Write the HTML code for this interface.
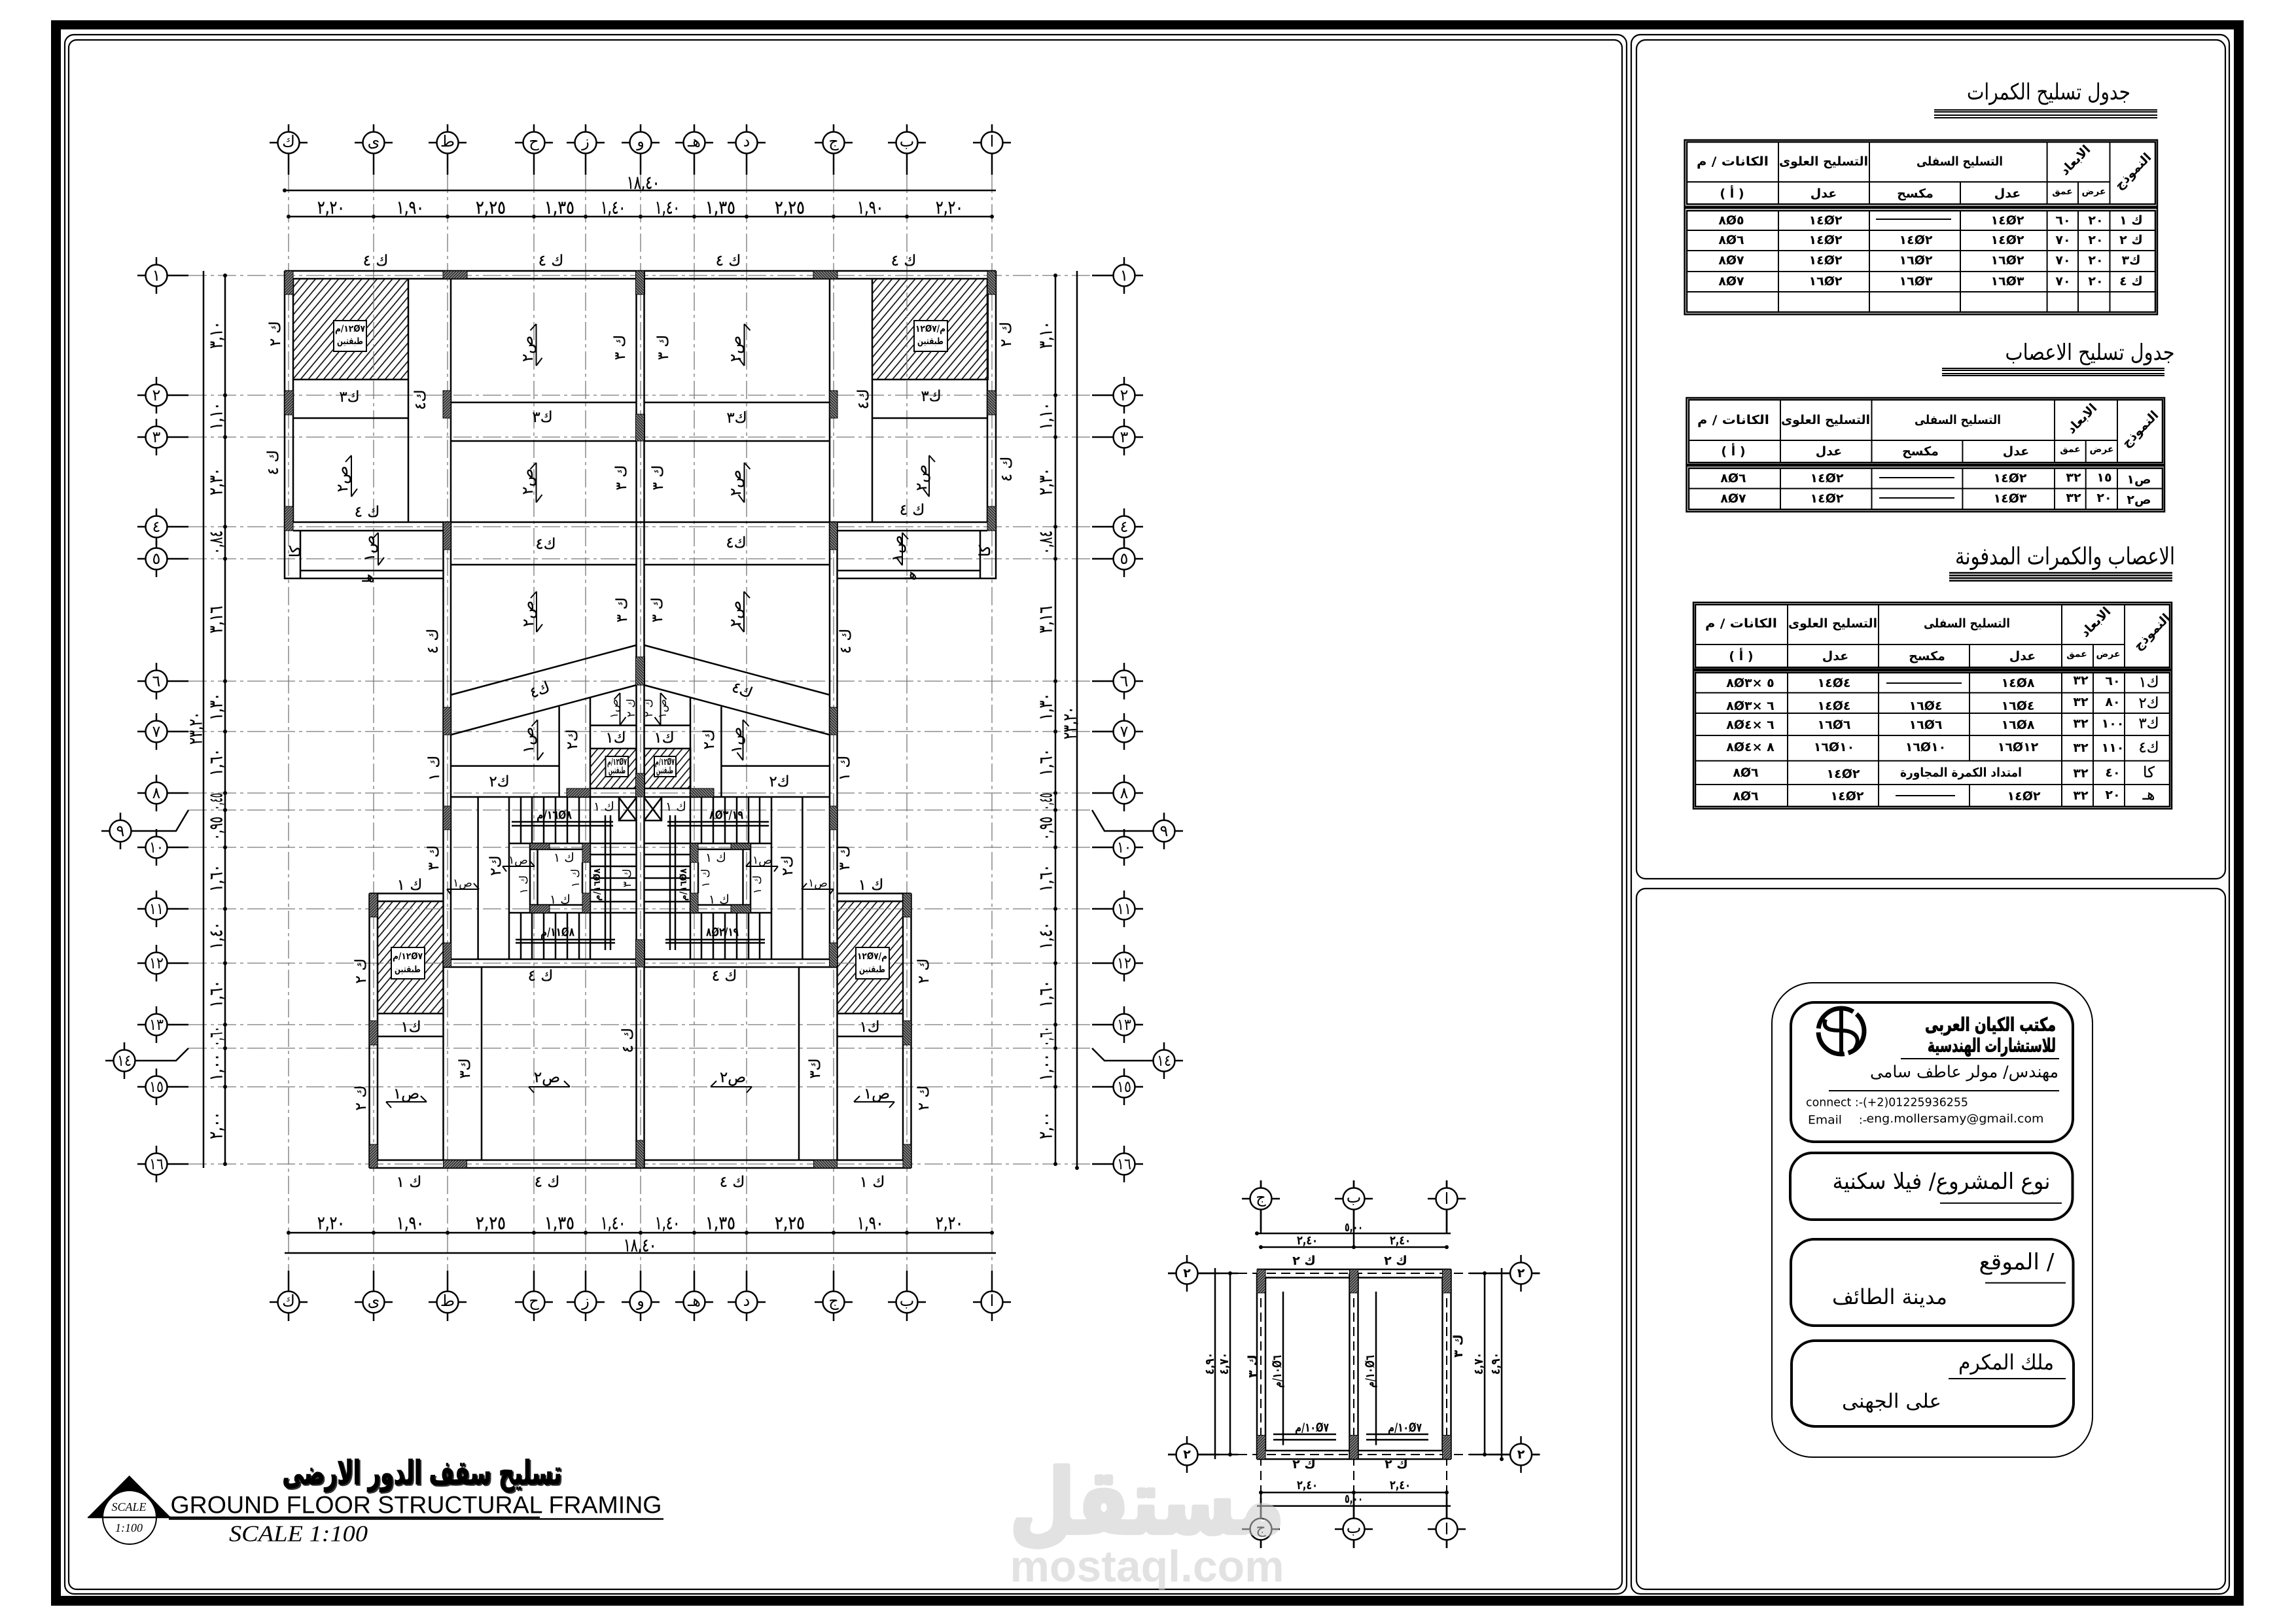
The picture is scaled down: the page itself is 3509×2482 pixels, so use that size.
<!DOCTYPE html>
<html><head><meta charset="utf-8"><style>
html,body{margin:0;padding:0;background:#fff}
svg{display:block}
text{font-family:"DejaVu Sans","Liberation Sans",sans-serif;text-anchor:middle;dominant-baseline:central;fill:#000}
.d{font-size:28px;stroke:#000;stroke-width:.4}
.b{font-size:24px}
.t{font-size:23px;stroke:#000;stroke-width:.3}
.s{font-size:14px;font-weight:bold}
.h{font-size:19px;font-weight:bold}
.v{font-size:19px;font-weight:bold}
.l{fill:none;stroke:#000;stroke-width:2.5}
.f{fill:none;stroke:#000;stroke-width:2}
.g{fill:none;stroke:#777;stroke-width:1.3;stroke-dasharray:28 6 5 6}
</style></head><body>
<svg xmlns="http://www.w3.org/2000/svg" width="3509" height="2482" viewBox="0 0 3509 2482">
<defs>
<pattern id="h" patternUnits="userSpaceOnUse" width="9" height="9" patternTransform="rotate(-50)"><rect width="9" height="9" fill="#fff"/><line x1="0" y1="4.5" x2="9" y2="4.5" stroke="#000" stroke-width="1.6"/></pattern>
<pattern id="c" patternUnits="userSpaceOnUse" width="3" height="3" patternTransform="rotate(-45)"><rect width="3" height="3" fill="#333"/><line x1="0" y1="1.5" x2="3" y2="1.5" stroke="#aaa" stroke-width="1"/></pattern>
<marker id="k" markerUnits="userSpaceOnUse" markerWidth="8" markerHeight="8" refX="4" refY="4"><circle cx="4" cy="4" r="3"/></marker>
<g id="bT"><path class="l" d="M-29 0H-16M16 0H29M0-28V-17M0 17V49"/><circle r="16.5" fill="#fff" stroke="#000" stroke-width="2.5"/></g>
<g id="bB"><path class="l" d="M-29 0H-16M16 0H29M0-48V-17M0 17V29"/><circle r="16.5" fill="#fff" stroke="#000" stroke-width="2.5"/></g>
<g id="bL"><path class="l" d="M-29 0H-16M16 0H49M0-28V-17M0 17V28"/><circle r="16.5" fill="#fff" stroke="#000" stroke-width="2.5"/></g>
<g id="bR"><path class="l" d="M-49 0H-16M16 0H29M0-28V-17M0 17V28"/><circle r="16.5" fill="#fff" stroke="#000" stroke-width="2.5"/></g>
<g id="half">
<path class="l" d="M435 414H978.5M448 426H978.5M435 414V884H677M448 426V798M448 798H978.5M448 811H677M459 872H677M459 811V884M624 426V798M677.5 798V1478M689 426V1466M448 580H624M448 639H624M689 615H972.5M689 674H972.5M689 863H972.5M972.5 426V1785M689 1062L972.5 986M689 1123L972.5 1047M854.6 1080V1218M902 1065V1218M689 1170.6H854.6M902 1108.6H972.5M902 1144H972.5M902 1205H972.5M730.6 1218V1466M778 1218V1466M796 1218V1289M813 1218V1289M831 1218V1289M849 1218V1289M867 1218V1289M885 1218V1289M796 1395V1466M813 1395V1466M831 1395V1466M849 1395V1466M867 1395V1466M885 1395V1466M902 1218V1466M778 1289H902M778 1395H902M810 1289V1395M821.5 1298V1383M890 1318V1365M810 1298H890M810 1383H890M902 1289H972.5M902 1306H972.5M902 1324H972.5M902 1342H972.5M902 1360H972.5M902 1378H972.5M902 1395H972.5M782 1256H937M782 1262H937M788 1436H940M788 1441H940M925 1246V1452M933 1246V1452M946 1219V1254H972.5M946 1219L972.5 1254M972.5 1219L946 1254M689 1466H972.5M677.5 1478H972.5M564.5 1365.5H677.5M577 1377.5H677.5M564.5 1365.5V1785M577 1365.5V1773M577 1549H677.5M577 1584H677.5M677.5 1478V1773M736 1478V1773M564.5 1785H978.5M577 1773H978.5"/>
<path class="l" stroke-width="3.5" d="M689 1218H972.5"/>
<path class="f" d="M819.5 495V559M819.5 495l-9 10M819.5 559l9-12M819.5 707V768M819.5 707l-9 10M819.5 768l9-12M537 696V759M537 696l-9 10M537 759l9-12M820 904V966M820 904l-9 10M820 966l9-12M821.5 1100V1162M821.5 1100l-9 10M821.5 1162l9-12M947.5 1059V1108M947.5 1059l-9 10M947.5 1108l9-12M578 814V864M578 814l-9 10M578 864l9-12M808 1661H871M808 1661l8 9M871 1661l-9-9M590 1684H652M590 1684l8 9M652 1684l-9-9M683 1359H732M683 1359l6 8M732 1359l-8-9M768 1324H817M768 1324l6 8M817 1324l-8-9"/>
<g fill="url(#c)" stroke="#000" stroke-width="1">
<rect x="435" y="414" width="13" height="36"/><rect x="435" y="597" width="13" height="37"/><rect x="677" y="414" width="37" height="12"/><rect x="677" y="597" width="12" height="42"/><rect x="435" y="774" width="13" height="37"/><rect x="972.5" y="414" width="13" height="36"/><rect x="972.5" y="633" width="13" height="41"/><rect x="677.5" y="798" width="11.5" height="42"/><rect x="677.5" y="1081" width="11.5" height="42"/><rect x="677.5" y="1232" width="11.5" height="36"/><rect x="677.5" y="1441" width="12" height="37"/><rect x="972.5" y="1004" width="13" height="43"/><rect x="972.5" y="1182" width="13" height="36"/><rect x="972.5" y="1436" width="13" height="42"/><rect x="866" y="1205" width="36" height="13"/><rect x="810" y="1289" width="30" height="9"/><rect x="890" y="1289" width="12" height="29"/><rect x="810" y="1383" width="30" height="12"/><rect x="890" y="1365" width="12" height="30"/><rect x="564.5" y="1365.5" width="12.5" height="36"/><rect x="564.5" y="1560" width="12.5" height="37"/><rect x="564.5" y="1749" width="12.5" height="36"/><rect x="677.5" y="1773" width="36" height="12"/><rect x="972.7" y="1743" width="12" height="42"/>
</g>
</g>
</defs>
<rect width="3509" height="2482" fill="#fff"/>
<!-- frame -->
<path d="M78 31H3429V2454H78ZM93 45V2439H3414V45Z" fill="#000" fill-rule="evenodd"/>
<g fill="none" stroke="#000" stroke-width="2.2">
<rect x="99" y="53" width="2387" height="2383" rx="14"/>
<rect x="105" y="61" width="2374" height="2368" rx="12"/>
<rect x="2493" y="53" width="914" height="2383" rx="14"/>
<rect x="2501" y="61" width="900" height="1282" rx="14"/>
<rect x="2501" y="1358" width="900" height="1071" rx="14"/>
</g>
<!-- hatched slabs -->
<g fill="url(#h)" stroke="#000" stroke-width="2">
<rect x="448" y="426" width="176" height="154"/><rect x="1333" y="426" width="177" height="154"/>
<rect x="902" y="1144" width="70.5" height="61"/><rect x="985" y="1144" width="70.5" height="61"/>
<rect x="577" y="1377.5" width="100.5" height="171.5"/><rect x="1279.5" y="1377.5" width="100.5" height="171.5"/>
</g>
<!-- grid -->
<path class="g" d="M441 267V1942M571 267V1942M684 267V1942M816 267V1942M895 267V1942M979 267V1942M1061 267V1942M1141 267V1942M1274 267V1942M1386 267V1942M1516 267V1942M288 421H1669M288 604H1669M288 668H1669M288 805H1669M288 854H1669M288 1041H1669M288 1118H1669M288 1212H1669M288 1238H1669M288 1295H1669M288 1389H1669M288 1472H1669M288 1566H1669M288 1602H1669M288 1661H1669M288 1779H1669"/>
<use href="#half"/>
<use href="#half" transform="matrix(-1 0 0 1 1957 0)"/>
<!-- boxes on slabs -->
<g fill="#fff" stroke="#000" stroke-width="2">
<rect x="510" y="490" width="50" height="47"/><rect x="1397" y="490" width="51" height="47"/><rect x="925.5" y="1156" width="34.5" height="31"/><rect x="1000" y="1156" width="33" height="31"/><rect x="598" y="1448" width="51" height="48"/><rect x="1308" y="1448" width="51" height="48"/>
</g>
<g>
<text class="s" x="535" y="503" textLength="46" lengthAdjust="spacingAndGlyphs">م&#8206;/&#8206;١٢Ø٧</text><text class="s" x="535" y="522" textLength="40" lengthAdjust="spacingAndGlyphs">طبقتين</text>
<text class="s" x="1422" y="503" textLength="46" lengthAdjust="spacingAndGlyphs">١٢Ø٧&#8206;/&#8206;م</text><text class="s" x="1422" y="522" textLength="40" lengthAdjust="spacingAndGlyphs">طبقتين</text>
<text class="s" x="943" y="1165" textLength="30" lengthAdjust="spacingAndGlyphs">م&#8206;/&#8206;١٢Ø٧</text><text class="s" x="943" y="1178" textLength="26" lengthAdjust="spacingAndGlyphs">طبقتين</text>
<text class="s" x="1016" y="1165" textLength="30" lengthAdjust="spacingAndGlyphs">م&#8206;/&#8206;١٢Ø٧</text><text class="s" x="1016" y="1178" textLength="26" lengthAdjust="spacingAndGlyphs">طبقتين</text>
<text class="s" x="623" y="1462" textLength="46" lengthAdjust="spacingAndGlyphs">م&#8206;/&#8206;١٢Ø٧</text><text class="s" x="623" y="1482" textLength="40" lengthAdjust="spacingAndGlyphs">طبقتين</text>
<text class="s" x="1333" y="1462" textLength="46" lengthAdjust="spacingAndGlyphs">١٢Ø٧&#8206;/&#8206;م</text><text class="s" x="1333" y="1482" textLength="40" lengthAdjust="spacingAndGlyphs">طبقتين</text>
</g>
<!-- grid bubbles top/bottom -->
<use href="#bT" x="441" y="218"/><use href="#bT" x="571" y="218"/><use href="#bT" x="684" y="218"/><use href="#bT" x="816" y="218"/><use href="#bT" x="895" y="218"/><use href="#bT" x="979" y="218"/><use href="#bT" x="1061" y="218"/><use href="#bT" x="1141" y="218"/><use href="#bT" x="1274" y="218"/><use href="#bT" x="1386" y="218"/><use href="#bT" x="1516" y="218"/>
<use href="#bB" x="441" y="1990"/><use href="#bB" x="571" y="1990"/><use href="#bB" x="684" y="1990"/><use href="#bB" x="816" y="1990"/><use href="#bB" x="895" y="1990"/><use href="#bB" x="979" y="1990"/><use href="#bB" x="1061" y="1990"/><use href="#bB" x="1141" y="1990"/><use href="#bB" x="1274" y="1990"/><use href="#bB" x="1386" y="1990"/><use href="#bB" x="1516" y="1990"/>
<g>
<text class="b" x="441" y="216">ك</text><text class="b" x="571" y="216">ى</text><text class="b" x="684" y="216">ط</text><text class="b" x="816" y="216">ح</text><text class="b" x="895" y="216">ز</text><text class="b" x="979" y="216">و</text><text class="b" x="1061" y="216">هـ</text><text class="b" x="1141" y="216">د</text><text class="b" x="1274" y="216">ج</text><text class="b" x="1386" y="216">ب</text><text class="b" x="1516" y="216">ا</text>
<text class="b" x="441" y="1988">ك</text><text class="b" x="571" y="1988">ى</text><text class="b" x="684" y="1988">ط</text><text class="b" x="816" y="1988">ح</text><text class="b" x="895" y="1988">ز</text><text class="b" x="979" y="1988">و</text><text class="b" x="1061" y="1988">هـ</text><text class="b" x="1141" y="1988">د</text><text class="b" x="1274" y="1988">ج</text><text class="b" x="1386" y="1988">ب</text><text class="b" x="1516" y="1988">ا</text>
</g>
<!-- row bubbles -->
<use href="#bL" x="239" y="421"/><use href="#bL" x="239" y="604"/><use href="#bL" x="239" y="668"/><use href="#bL" x="239" y="805"/><use href="#bL" x="239" y="854"/><use href="#bL" x="239" y="1041"/><use href="#bL" x="239" y="1118"/><use href="#bL" x="239" y="1212"/><use href="#bL" x="239" y="1295"/><use href="#bL" x="239" y="1389"/><use href="#bL" x="239" y="1472"/><use href="#bL" x="239" y="1566"/><use href="#bL" x="239" y="1661"/><use href="#bL" x="239" y="1779"/>
<use href="#bR" x="1718" y="421"/><use href="#bR" x="1718" y="604"/><use href="#bR" x="1718" y="668"/><use href="#bR" x="1718" y="805"/><use href="#bR" x="1718" y="854"/><use href="#bR" x="1718" y="1041"/><use href="#bR" x="1718" y="1118"/><use href="#bR" x="1718" y="1212"/><use href="#bR" x="1718" y="1295"/><use href="#bR" x="1718" y="1389"/><use href="#bR" x="1718" y="1472"/><use href="#bR" x="1718" y="1566"/><use href="#bR" x="1718" y="1661"/><use href="#bR" x="1718" y="1779"/>
<path class="l" d="M200 1270H269L288 1238M206 1621H269L288 1602M1669 1238L1688 1270H1763M1669 1602L1688 1621H1763M184 1242V1253M184 1287V1298M190 1593V1604M190 1638V1649M1779 1242V1253M1779 1287V1298M1779 1593V1604M1779 1638V1649M155 1270H167M161 1621H173M1796 1270H1808M1796 1621H1808"/>
<g fill="#fff" stroke="#000" stroke-width="2.5"><circle cx="184" cy="1270" r="16.5"/><circle cx="190" cy="1621" r="16.5"/><circle cx="1779" cy="1270" r="16.5"/><circle cx="1779" cy="1621" r="16.5"/></g>
<g>
<text class="b" x="239" y="421">١</text><text class="b" x="239" y="604">٢</text><text class="b" x="239" y="668">٣</text><text class="b" x="239" y="805">٤</text><text class="b" x="239" y="854">٥</text><text class="b" x="239" y="1041">٦</text><text class="b" x="239" y="1118">٧</text><text class="b" x="239" y="1212">٨</text><text class="b" x="184" y="1270">٩</text><text class="b" x="239" y="1295" textLength="22" lengthAdjust="spacingAndGlyphs">١٠</text><text class="b" x="239" y="1389" textLength="22" lengthAdjust="spacingAndGlyphs">١١</text><text class="b" x="239" y="1472" textLength="22" lengthAdjust="spacingAndGlyphs">١٢</text><text class="b" x="239" y="1566" textLength="22" lengthAdjust="spacingAndGlyphs">١٣</text><text class="b" x="190" y="1621" textLength="22" lengthAdjust="spacingAndGlyphs">١٤</text><text class="b" x="239" y="1661" textLength="22" lengthAdjust="spacingAndGlyphs">١٥</text><text class="b" x="239" y="1779" textLength="22" lengthAdjust="spacingAndGlyphs">١٦</text>
<text class="b" x="1718" y="421">١</text><text class="b" x="1718" y="604">٢</text><text class="b" x="1718" y="668">٣</text><text class="b" x="1718" y="805">٤</text><text class="b" x="1718" y="854">٥</text><text class="b" x="1718" y="1041">٦</text><text class="b" x="1718" y="1118">٧</text><text class="b" x="1718" y="1212">٨</text><text class="b" x="1779" y="1270">٩</text><text class="b" x="1718" y="1295" textLength="22" lengthAdjust="spacingAndGlyphs">١٠</text><text class="b" x="1718" y="1389" textLength="22" lengthAdjust="spacingAndGlyphs">١١</text><text class="b" x="1718" y="1472" textLength="22" lengthAdjust="spacingAndGlyphs">١٢</text><text class="b" x="1718" y="1566" textLength="22" lengthAdjust="spacingAndGlyphs">١٣</text><text class="b" x="1779" y="1621" textLength="22" lengthAdjust="spacingAndGlyphs">١٤</text><text class="b" x="1718" y="1661" textLength="22" lengthAdjust="spacingAndGlyphs">١٥</text><text class="b" x="1718" y="1779" textLength="22" lengthAdjust="spacingAndGlyphs">١٦</text>
</g>
<!-- dimension lines -->
<path class="l" marker-start="url(#k)" marker-end="url(#k)" d="M435 291H1522M435 1915H1522M311 414V1785M1646 414V1785"/>
<path class="l" marker-start="url(#k)" marker-mid="url(#k)" marker-end="url(#k)" d="M441 331L571 331L684 331L816 331L895 331L979 331L1061 331L1141 331L1274 331L1386 331L1516 331M441 1884L571 1884L684 1884L816 1884L895 1884L979 1884L1061 1884L1141 1884L1274 1884L1386 1884L1516 1884M344 421L344 604L344 668L344 805L344 854L344 1041L344 1118L344 1212L344 1238L344 1295L344 1389L344 1472L344 1566L344 1602L344 1661L344 1779M1613 421L1613 604L1613 668L1613 805L1613 854L1613 1041L1613 1118L1613 1212L1613 1238L1613 1295L1613 1389L1613 1472L1613 1566L1613 1602L1613 1661L1613 1779"/>
<g>
<text class="d" x="983" y="279" textLength="50" lengthAdjust="spacingAndGlyphs">١٨,٤٠</text>
<text class="d" x="978" y="1903" textLength="50" lengthAdjust="spacingAndGlyphs">١٨,٤٠</text>
<text class="d" x="506" y="317" textLength="42" lengthAdjust="spacingAndGlyphs">٢,٢٠</text><text class="d" x="627" y="317" textLength="42" lengthAdjust="spacingAndGlyphs">١,٩٠</text><text class="d" x="750" y="317" textLength="46" lengthAdjust="spacingAndGlyphs">٢,٢٥</text><text class="d" x="855" y="317" textLength="46" lengthAdjust="spacingAndGlyphs">١,٣٥</text><text class="d" x="937" y="317" textLength="38" lengthAdjust="spacingAndGlyphs">١,٤٠</text><text class="d" x="1020" y="317" textLength="38" lengthAdjust="spacingAndGlyphs">١,٤٠</text><text class="d" x="1101" y="317" textLength="46" lengthAdjust="spacingAndGlyphs">١,٣٥</text><text class="d" x="1207" y="317" textLength="46" lengthAdjust="spacingAndGlyphs">٢,٢٥</text><text class="d" x="1330" y="317" textLength="40" lengthAdjust="spacingAndGlyphs">١,٩٠</text><text class="d" x="1451" y="317" textLength="42" lengthAdjust="spacingAndGlyphs">٢,٢٠</text>
<text class="d" x="506" y="1869" textLength="42" lengthAdjust="spacingAndGlyphs">٢,٢٠</text><text class="d" x="627" y="1869" textLength="42" lengthAdjust="spacingAndGlyphs">١,٩٠</text><text class="d" x="750" y="1869" textLength="46" lengthAdjust="spacingAndGlyphs">٢,٢٥</text><text class="d" x="855" y="1869" textLength="46" lengthAdjust="spacingAndGlyphs">١,٣٥</text><text class="d" x="937" y="1869" textLength="38" lengthAdjust="spacingAndGlyphs">١,٤٠</text><text class="d" x="1020" y="1869" textLength="38" lengthAdjust="spacingAndGlyphs">١,٤٠</text><text class="d" x="1101" y="1869" textLength="46" lengthAdjust="spacingAndGlyphs">١,٣٥</text><text class="d" x="1207" y="1869" textLength="46" lengthAdjust="spacingAndGlyphs">٢,٢٥</text><text class="d" x="1330" y="1869" textLength="40" lengthAdjust="spacingAndGlyphs">١,٩٠</text><text class="d" x="1451" y="1869" textLength="42" lengthAdjust="spacingAndGlyphs">٢,٢٠</text>
<!-- rotated row dims left -->
<text class="d" transform="translate(330 512) rotate(-90)" textLength="42" lengthAdjust="spacingAndGlyphs">٣,١٠</text><text class="d" transform="translate(330 636) rotate(-90)" textLength="42" lengthAdjust="spacingAndGlyphs">١,١٠</text><text class="d" transform="translate(330 736) rotate(-90)" textLength="42" lengthAdjust="spacingAndGlyphs">٢,٣٠</text><text class="d" transform="translate(330 829) rotate(-90)" textLength="36" lengthAdjust="spacingAndGlyphs">٠,٨٤</text><text class="d" transform="translate(330 947) rotate(-90)" textLength="42" lengthAdjust="spacingAndGlyphs">٣,١٦</text><text class="d" transform="translate(330 1080) rotate(-90)" textLength="42" lengthAdjust="spacingAndGlyphs">١,٣٠</text><text class="d" transform="translate(330 1165) rotate(-90)" textLength="42" lengthAdjust="spacingAndGlyphs">١,٦٠</text><text class="d" transform="translate(330 1225) rotate(-90)" textLength="26" lengthAdjust="spacingAndGlyphs">٠,٤٥</text><text class="d" transform="translate(330 1266) rotate(-90)" textLength="36" lengthAdjust="spacingAndGlyphs">٠,٩٥</text><text class="d" transform="translate(330 1342) rotate(-90)" textLength="42" lengthAdjust="spacingAndGlyphs">١,٦٠</text><text class="d" transform="translate(330 1430) rotate(-90)" textLength="42" lengthAdjust="spacingAndGlyphs">١,٤٠</text><text class="d" transform="translate(330 1519) rotate(-90)" textLength="42" lengthAdjust="spacingAndGlyphs">١,٦٠</text><text class="d" transform="translate(330 1584) rotate(-90)" textLength="30" lengthAdjust="spacingAndGlyphs">٠,٦٠</text><text class="d" transform="translate(330 1631) rotate(-90)" textLength="42" lengthAdjust="spacingAndGlyphs">١,٠٠</text><text class="d" transform="translate(330 1720) rotate(-90)" textLength="42" lengthAdjust="spacingAndGlyphs">٢,٠٠</text>
<text class="d" transform="translate(299 1113) rotate(-90)" textLength="50" lengthAdjust="spacingAndGlyphs">٢٣,٢٠</text>
<!-- rotated row dims right -->
<text class="d" transform="translate(1598 512) rotate(-90)" textLength="42" lengthAdjust="spacingAndGlyphs">٣,١٠</text><text class="d" transform="translate(1598 636) rotate(-90)" textLength="42" lengthAdjust="spacingAndGlyphs">١,١٠</text><text class="d" transform="translate(1598 736) rotate(-90)" textLength="42" lengthAdjust="spacingAndGlyphs">٢,٣٠</text><text class="d" transform="translate(1598 829) rotate(-90)" textLength="36" lengthAdjust="spacingAndGlyphs">٠,٨٤</text><text class="d" transform="translate(1598 947) rotate(-90)" textLength="42" lengthAdjust="spacingAndGlyphs">٣,١٦</text><text class="d" transform="translate(1598 1080) rotate(-90)" textLength="42" lengthAdjust="spacingAndGlyphs">١,٣٠</text><text class="d" transform="translate(1598 1165) rotate(-90)" textLength="42" lengthAdjust="spacingAndGlyphs">١,٦٠</text><text class="d" transform="translate(1598 1225) rotate(-90)" textLength="26" lengthAdjust="spacingAndGlyphs">٠,٤٥</text><text class="d" transform="translate(1598 1266) rotate(-90)" textLength="36" lengthAdjust="spacingAndGlyphs">٠,٩٥</text><text class="d" transform="translate(1598 1342) rotate(-90)" textLength="42" lengthAdjust="spacingAndGlyphs">١,٦٠</text><text class="d" transform="translate(1598 1430) rotate(-90)" textLength="42" lengthAdjust="spacingAndGlyphs">١,٤٠</text><text class="d" transform="translate(1598 1519) rotate(-90)" textLength="42" lengthAdjust="spacingAndGlyphs">١,٦٠</text><text class="d" transform="translate(1598 1584) rotate(-90)" textLength="30" lengthAdjust="spacingAndGlyphs">٠,٦٠</text><text class="d" transform="translate(1598 1631) rotate(-90)" textLength="42" lengthAdjust="spacingAndGlyphs">١,٠٠</text><text class="d" transform="translate(1598 1720) rotate(-90)" textLength="42" lengthAdjust="spacingAndGlyphs">٢,٠٠</text>
<text class="d" transform="translate(1635 1105) rotate(-90)" textLength="50" lengthAdjust="spacingAndGlyphs">٢٣,٢٠</text>
</g>
<!-- beam labels horizontal -->
<g>
<text class="t" x="574" y="399">ك ٤</text><text class="t" x="842" y="399">ك ٤</text><text class="t" x="1113" y="399">ك ٤</text><text class="t" x="1381" y="399">ك ٤</text><text class="t" x="561" y="783">ك ٤</text><text class="t" x="1394" y="780">ك ٤</text>
<text class="t" x="534" y="607">ك٣</text><text class="t" x="829" y="638">ك٣</text><text class="t" x="1423" y="606">ك٣</text><text class="t" x="1126" y="639">ك٣</text><text class="t" x="834" y="832">ك٤</text><text class="t" x="1125" y="830">ك٤</text>
<text class="t" x="563" y="882">هـ</text><text class="t" x="1392" y="878">هـ</text>
<text class="t" x="763" y="1195">ك٢</text><text class="t" x="1191" y="1195">ك٢</text><text class="t" x="941" y="1128">ك١</text><text class="t" x="1015" y="1128">ك١</text>
<text style="font-size:19px" x="923" y="1233">ك ١</text><text style="font-size:19px" x="1033" y="1233">ك ١</text><text style="font-size:19px" x="862" y="1311">ك ١</text><text style="font-size:19px" x="1094" y="1311">ك ١</text><text style="font-size:19px" x="856" y="1375">ك ١</text><text style="font-size:19px" x="1099" y="1375">ك ١</text>
<text class="t" x="626" y="1353">ك ١</text><text class="t" x="1331" y="1353">ك ١</text><text class="t" x="628" y="1570">ك١</text><text class="t" x="1329" y="1570">ك١</text>
<text class="t" x="826" y="1492">ك ٤</text><text class="t" x="1107" y="1492">ك ٤</text><text class="t" x="625" y="1807">ك ١</text><text class="t" x="836" y="1807">ك ٤</text><text class="t" x="1119" y="1807">ك ٤</text><text class="t" x="1333" y="1807">ك ١</text>
<text class="t" transform="translate(825 1055) rotate(-22)">ك٤</text><text class="t" transform="translate(1134 1055) rotate(22)">ك٤</text>
<!-- rotated beams -->
<text class="t" transform="translate(421 510) rotate(-90)">ك ٢</text><text class="t" transform="translate(418 707) rotate(-90)">ك ٤</text><text class="t" transform="translate(1538 511) rotate(-90)">ك ٢</text><text class="t" transform="translate(1539 717) rotate(-90)">ك ٤</text>
<text class="t" transform="translate(948 531) rotate(-90)">ك ٣</text><text class="t" transform="translate(950 730) rotate(-90)">ك ٣</text><text class="t" transform="translate(1014 531) rotate(-90)">ك ٣</text><text class="t" transform="translate(1006 730) rotate(-90)">ك ٣</text>
<text class="t" transform="translate(951 932) rotate(-90)">ك ٣</text><text class="t" transform="translate(1005 932) rotate(-90)">ك ٣</text>
<text class="t" transform="translate(662 980) rotate(-90)">ك ٤</text><text class="t" transform="translate(1293 980) rotate(-90)">ك ٤</text><text class="t" transform="translate(664 1174) rotate(-90)">ك ١</text><text class="t" transform="translate(1291 1174) rotate(-90)">ك ١</text><text class="t" transform="translate(663 1311) rotate(-90)">ك ٣</text><text class="t" transform="translate(1291 1311) rotate(-90)">ك ٣</text>
<text style="font-size:17px" transform="translate(965 1082) rotate(-90)">ك ٢</text><text style="font-size:17px" transform="translate(992 1082) rotate(-90)">ك ٢</text>
<text style="font-size:17px" transform="translate(801 1352) rotate(-90)">ك ١</text><text style="font-size:17px" transform="translate(1158 1352) rotate(-90)">ك ١</text><text style="font-size:17px" transform="translate(880 1342) rotate(-90)">ك ١</text><text style="font-size:17px" transform="translate(1079 1342) rotate(-90)">ك ١</text><text style="font-size:17px" transform="translate(959 1342) rotate(-90)">ك ٣</text>
<text class="t" transform="translate(875 1130) rotate(-90)">ك٢</text><text class="t" transform="translate(1084 1130) rotate(-90)">ك٢</text><text class="t" transform="translate(758 1323) rotate(-90)">ك٢</text><text class="t" transform="translate(1204 1323) rotate(-90)">ك٢</text>
<text class="t" transform="translate(643 611) rotate(-90)">ك٤</text><text class="t" transform="translate(1320 610) rotate(-90)">ك٤</text><text class="t" transform="translate(452 843) rotate(-90)">كا</text><text class="t" transform="translate(1506 842) rotate(-90)">كا</text>
<text class="t" transform="translate(552 1484) rotate(-90)">ك ٢</text><text class="t" transform="translate(552 1678) rotate(-90)">ك ٢</text><text class="t" transform="translate(1412 1484) rotate(-90)">ك ٢</text><text class="t" transform="translate(1412 1678) rotate(-90)">ك ٢</text><text class="t" transform="translate(960 1590) rotate(-90)">ك ٤</text><text class="t" transform="translate(711 1633) rotate(-90)">ك٣</text><text class="t" transform="translate(1246 1633) rotate(-90)">ك٣</text>
<!-- slab labels -->
<text class="t" transform="translate(807 533) rotate(-90)">ص٢</text><text class="t" transform="translate(1125 533) rotate(-90)">ص٢</text><text class="t" transform="translate(807 736) rotate(-90)">ص٢</text><text class="t" transform="translate(1125 738) rotate(-90)">ص٢</text><text class="t" transform="translate(524 732) rotate(-90)">ص٢</text><text class="t" transform="translate(1409 730) rotate(-90)">ص٢</text><text class="t" transform="translate(808 938) rotate(-90)">ص٢</text><text class="t" transform="translate(1125 938) rotate(-90)">ص٢</text><text class="t" transform="translate(808 1131) rotate(-90)">ص١</text><text class="t" transform="translate(1126 1131) rotate(-90)">ص١</text><text style="font-size:17px" transform="translate(939 1083) rotate(-90)">ص١</text><text style="font-size:17px" transform="translate(1013 1083) rotate(-90)">ص١</text><text class="t" transform="translate(565 838) rotate(-90)">ص١</text><text class="t" transform="translate(1372 838) rotate(-90)">ص١</text>
<text class="t" x="836" y="1647">ص٢</text><text class="t" x="1120" y="1647">ص٢</text><text class="t" x="621" y="1672">ص١</text><text class="t" x="1340" y="1672">ص١</text><text style="font-size:17px" x="707" y="1350">ص١</text><text style="font-size:17px" x="1250" y="1350">ص١</text><text style="font-size:17px" x="792" y="1315">ص١</text><text style="font-size:17px" x="1165" y="1315">ص١</text>
<!-- stair text -->
<text class="s" style="font-size:18px" x="847" y="1246" textLength="54" lengthAdjust="spacingAndGlyphs">م&#8206;/&#8206;١٦Ø٨</text><text class="s" style="font-size:18px" x="1110" y="1246" textLength="52" lengthAdjust="spacingAndGlyphs">٨Ø٣&#8206;/&#8206;١٩</text><text class="s" style="font-size:18px" x="852" y="1425" textLength="52" lengthAdjust="spacingAndGlyphs">م&#8206;/&#8206;١١Ø٨</text><text class="s" style="font-size:18px" x="1104" y="1425" textLength="50" lengthAdjust="spacingAndGlyphs">٨Ø٢&#8206;/&#8206;١٩</text>
<text class="s" transform="translate(913 1352) rotate(-90)" textLength="50" lengthAdjust="spacingAndGlyphs">م&#8206;/&#8206;١٦Ø٨</text><text class="s" transform="translate(1045 1352) rotate(-90)" textLength="50" lengthAdjust="spacingAndGlyphs">م&#8206;/&#8206;١٦Ø٨</text>
</g>
<!-- small plan -->
<g>
<path d="M1927 1940V2281M2069 1940V2281M2211 1940V2281M1892 1946H2246M1892 2223H2246" fill="none" stroke="#000" stroke-width="2" stroke-dasharray="14 8"/>
<path class="l" d="M1927 1804V1885M2069 1804V1906M2211 1804V1885M1921 1946V2230M1934 1952V2218M2062.5 1946V2230M2075.5 1946V2230M2204.5 1952V2218M2217.5 1940V2230M1921 1940H2217.5M1934 1952.6H2204.5M1921 2230H2217.5M1934 2217H2204.5M1961 1974V2208.6M2103 1974V2208.6M1946 2192H2042M1946 2200.4H2042M2088 2192H2183M2088 2200.4H2183M1927 2281V2366M2069 2281V2366M2211 2281V2366M1785 1946H1892M1785 2223H1892M2246 1946H2353M2246 2223H2353"/>
<path class="l" marker-start="url(#k)" marker-end="url(#k)" d="M1921 1885H2217M1921 2301.6H2217M1857 1938V2230M2295 1938V2230"/>
<path class="l" marker-start="url(#k)" marker-mid="url(#k)" marker-end="url(#k)" d="M1927 1906L2069 1906L2211 1906M1927 2281L2069 2281L2211 2281M1880 1946L1880 2223M2269 1946L2269 2223"/>
<g fill="url(#c)" stroke="#000" stroke-width="1"><rect x="1921" y="1940" width="13" height="36"/><rect x="2062.5" y="1940" width="13" height="36"/><rect x="2204.5" y="1940" width="13" height="36"/><rect x="1921" y="2193.5" width="13" height="36.5"/><rect x="2062.5" y="2193.5" width="13" height="36.5"/><rect x="2204.5" y="2193.5" width="13" height="36.5"/></g>
<use href="#bT" x="1927" y="1832"/><use href="#bT" x="2069" y="1832"/><use href="#bT" x="2211" y="1832"/>
<use href="#bB" x="1927" y="2337"/><use href="#bB" x="2069" y="2337"/><use href="#bB" x="2211" y="2337"/>
<use href="#bL" x="1814" y="1946"/><use href="#bL" x="1814" y="2223"/><use href="#bR" x="2324.5" y="1946"/><use href="#bR" x="2324.5" y="2223"/>
<text class="b" x="1927" y="1830">ج</text><text class="b" x="2069" y="1830">ب</text><text class="b" x="2211" y="1832">ا</text><text class="b" x="1927" y="2335">ج</text><text class="b" x="2069" y="2335">ب</text><text class="b" x="2211" y="2337">ا</text>
<text class="v" x="1814" y="1946">٢</text><text class="v" x="1814" y="2223">٢</text><text class="v" x="2324.5" y="1946">٢</text><text class="v" x="2324.5" y="2223">٢</text>
<text class="v" x="2069" y="1876" textLength="28" lengthAdjust="spacingAndGlyphs">٥,٠٠</text><text class="v" x="1998" y="1896" textLength="32" lengthAdjust="spacingAndGlyphs">٢,٤٠</text><text class="v" x="2140" y="1896" textLength="32" lengthAdjust="spacingAndGlyphs">٢,٤٠</text>
<text class="v" x="1998" y="2270" textLength="32" lengthAdjust="spacingAndGlyphs">٢,٤٠</text><text class="v" x="2140" y="2270" textLength="32" lengthAdjust="spacingAndGlyphs">٢,٤٠</text><text class="v" x="2069" y="2291" textLength="28" lengthAdjust="spacingAndGlyphs">٥,٠٠</text>
<text class="v" x="1993" y="1927">ك ٢</text><text class="v" x="2133" y="1927">ك ٢</text><text class="v" x="1993" y="2238">ك ٢</text><text class="v" x="2134" y="2238">ك ٢</text>
<text class="v" transform="translate(1915 2088) rotate(-90)">ك ٣</text><text class="v" transform="translate(2229 2057) rotate(-90)">ك ٣</text>
<text class="v" x="2005" y="2182" textLength="52" lengthAdjust="spacingAndGlyphs">م&#8206;/&#8206;١٠Ø٧</text><text class="v" x="2147" y="2182" textLength="52" lengthAdjust="spacingAndGlyphs">م&#8206;/&#8206;١٠Ø٧</text>
<text class="v" transform="translate(1952 2096) rotate(-90)" textLength="50" lengthAdjust="spacingAndGlyphs">م&#8206;/&#8206;١٠Ø٦</text><text class="v" transform="translate(2094 2096) rotate(-90)" textLength="50" lengthAdjust="spacingAndGlyphs">م&#8206;/&#8206;١٠Ø٦</text>
<text class="v" transform="translate(1849 2084) rotate(-90)" textLength="34" lengthAdjust="spacingAndGlyphs">٤,٩٠</text><text class="v" transform="translate(1871 2084) rotate(-90)" textLength="34" lengthAdjust="spacingAndGlyphs">٤,٧٠</text><text class="v" transform="translate(2260 2084) rotate(-90)" textLength="34" lengthAdjust="spacingAndGlyphs">٤,٧٠</text><text class="v" transform="translate(2286 2084) rotate(-90)" textLength="34" lengthAdjust="spacingAndGlyphs">٤,٩٠</text>
</g>
<!-- title block -->
<g>
<text x="647" y="2253" style="font-size:50px;font-weight:bold;fill:#333;stroke:#333;stroke-width:1.5" textLength="427" lengthAdjust="spacingAndGlyphs">تسليح سقف الدور الارضى</text>
<text x="645" y="2251" style="font-size:50px;font-weight:bold;stroke:#000;stroke-width:1.5" textLength="427" lengthAdjust="spacingAndGlyphs">تسليح سقف الدور الارضى</text>
<text x="636" y="2300" style="font-family:'Liberation Sans',sans-serif;font-size:37px" textLength="751" lengthAdjust="spacingAndGlyphs">GROUND FLOOR STRUCTURAL FRAMING</text>
<path d="M258 2319H825" stroke="#000" stroke-width="2.5"/><path d="M258 2321.5H1014" stroke="#000" stroke-width="2.5"/>
<text x="456" y="2344" style="font-family:'Liberation Serif',serif;font-style:italic;font-size:35px" textLength="212" lengthAdjust="spacingAndGlyphs">SCALE 1:100</text>
<path d="M197.6 2255L134 2319H261Z" fill="#000"/>
<circle cx="198" cy="2319" r="41" fill="#fff" stroke="#000" stroke-width="2"/>
<path d="M134 2319H261" stroke="#000" stroke-width="2.5"/>
<text x="197" y="2303" style="font-family:'Liberation Serif',serif;font-style:italic;font-size:18px">SCALE</text>
<text x="197" y="2335" style="font-family:'Liberation Serif',serif;font-style:italic;font-size:18px">1:100</text>
</g>
<!-- table 1 -->
<g>
<text x="3131" y="141" style="font-size:34px" textLength="250" lengthAdjust="spacingAndGlyphs">جدول تسليح الكمرات</text>
<path class="f" d="M2956 168H3297M2956 171H3297M2956 176H3297M2956 180H3297"/>
<path class="l" d="M2574.6 214H3297V315.7H2574.6ZM2578 217H3294V312H2578ZM2574.6 318H3297V480.5H2574.6ZM2578 322H3294V477H2578Z"/>
<path class="f" d="M2718 217V312M2857 217V312M2996 278V312M3128.6 217V312M3176 278V312M3224.5 217V312M2578 278H3224.5M2718 322V477M2857 322V477M2996 322V477M3128.6 322V477M3176 322V477M3224.5 322V477M2578 352H3294M2578 383H3294M2578 415H3294M2578 446H3294M2867 335H2982"/>
<text class="h" x="2648" y="247" textLength="110" lengthAdjust="spacingAndGlyphs">الكانات / م</text><text class="h" x="2787" y="247" textLength="136" lengthAdjust="spacingAndGlyphs">التسليح العلوى</text><text class="h" x="2995" y="247" textLength="132" lengthAdjust="spacingAndGlyphs">التسليح السفلى</text>
<text class="h" transform="translate(3172 245) rotate(-45)">الابعاد</text><text class="h" transform="translate(3260 262) rotate(-45)">النموذج</text>
<text class="h" x="2647" y="296">( أ )</text><text class="h" x="2787" y="296">عدل</text><text class="h" x="2927" y="296">مكسح</text><text class="h" x="3068" y="296">عدل</text><text class="s" x="3152" y="293">عمق</text><text class="s" x="3200" y="293">عرض</text>
<text class="v" x="2646" y="337">٨Ø٥</text><text class="v" x="2790" y="337">١٤Ø٢</text><text class="v" x="3068" y="337">١٤Ø٢</text><text class="v" x="3153" y="337">٦٠</text><text class="v" x="3203" y="337">٢٠</text><text class="v" x="3257" y="337">ك ١</text>
<text class="v" x="2646" y="367">٨Ø٦</text><text class="v" x="2790" y="367">١٤Ø٢</text><text class="v" x="2928" y="367">١٤Ø٢</text><text class="v" x="3068" y="367">١٤Ø٢</text><text class="v" x="3153" y="367">٧٠</text><text class="v" x="3203" y="367">٢٠</text><text class="v" x="3257" y="367">ك ٢</text>
<text class="v" x="2646" y="398">٨Ø٧</text><text class="v" x="2790" y="398">١٤Ø٢</text><text class="v" x="2928" y="398">١٦Ø٢</text><text class="v" x="3068" y="398">١٦Ø٢</text><text class="v" x="3153" y="398">٧٠</text><text class="v" x="3203" y="398">٢٠</text><text class="v" x="3257" y="398">ك٣</text>
<text class="v" x="2646" y="430">٨Ø٧</text><text class="v" x="2790" y="430">١٦Ø٢</text><text class="v" x="2928" y="430">١٦Ø٣</text><text class="v" x="3068" y="430">١٦Ø٣</text><text class="v" x="3153" y="430">٧٠</text><text class="v" x="3203" y="430">٢٠</text><text class="v" x="3257" y="430">ك ٤</text>
</g>
<!-- table 2 -->
<g>
<text x="3194" y="539" style="font-size:34px" textLength="259" lengthAdjust="spacingAndGlyphs">جدول تسليح الاعصاب</text>
<path class="f" d="M2968 563H3308M2968 566H3308M2968 571H3308M2968 574H3308"/>
<path class="l" d="M2577.5 608H3308V710H2577.5ZM2581 611H3305V707H2581ZM2577.5 712H3308V782H2577.5ZM2581 715.6H3305V778.6H2581Z"/>
<path class="f" d="M2721 611V707M2860.5 611V707M2999.4 673V707M3140 611V707M3187.7 673V707M3236 611V707M2581 673H3236M2721 715.6V778.6M2860.5 715.6V778.6M2999.4 715.6V778.6M3140 715.6V778.6M3187.7 715.6V778.6M3236 715.6V778.6M2581 746.6H3305M2872 730H2987M2872 761H2987"/>
<text class="h" x="2649" y="642" textLength="110" lengthAdjust="spacingAndGlyphs">الكانات / م</text><text class="h" x="2790" y="642" textLength="136" lengthAdjust="spacingAndGlyphs">التسليح العلوى</text><text class="h" x="2992" y="642" textLength="132" lengthAdjust="spacingAndGlyphs">التسليح السفلى</text>
<text class="h" transform="translate(3182 640) rotate(-45)">الابعاد</text><text class="h" transform="translate(3271 656) rotate(-45)">النموذج</text>
<text class="h" x="2649" y="690">( أ )</text><text class="h" x="2795" y="690">عدل</text><text class="h" x="2935" y="690">مكسح</text><text class="h" x="3081" y="690">عدل</text><text class="s" x="3164" y="687">عمق</text><text class="s" x="3212" y="687">عرض</text>
<text class="v" x="2649" y="731">٨Ø٦</text><text class="v" x="2792" y="731">١٤Ø٢</text><text class="v" x="3072" y="731">١٤Ø٢</text><text class="v" x="3169" y="730">٣٢</text><text class="v" x="3216" y="730">١٥</text><text class="v" x="3269" y="733">ص١</text>
<text class="v" x="2649" y="762">٨Ø٧</text><text class="v" x="2792" y="762">١٤Ø٢</text><text class="v" x="3072" y="762">١٤Ø٣</text><text class="v" x="3169" y="761">٣٢</text><text class="v" x="3216" y="761">٢٠</text><text class="v" x="3269" y="764">ص٢</text>
</g>
<!-- table 3 -->
<g>
<text x="3156" y="851" style="font-size:36px" textLength="336" lengthAdjust="spacingAndGlyphs">الاعصاب والكمرات المدفونة</text>
<path class="l" d="M2979 875.5H3320M2979 879.5H3320M2979 883.5H3320M2979 887.5H3320"/>
<path class="l" d="M2588 920.7H3319V1022.7H2588ZM2591 924H3316V1020H2591ZM2588 1025H3319V1236H2588ZM2591 1028H3316V1232.7H2591Z"/>
<path class="f" d="M2732 924V1020M2871 924V1020M3010 985V1020M3151 924V1020M3199 985V1020M3247 924V1020M2591 985H3247M2732 1028V1232.7M2871 1028V1232.7M3010 1028V1162.7M3010 1199V1232.7M3151 1028V1232.7M3199 1028V1232.7M3247 1028V1232.7M2591 1058.7H3316M2591 1090H3316M2591 1124H3316M2591 1162.7H3316M2591 1199H3316M2883 1044H2998M2897 1216H2988"/>
<text class="h" x="2661" y="953" textLength="110" lengthAdjust="spacingAndGlyphs">الكانات / م</text><text class="h" x="2801" y="953" textLength="136" lengthAdjust="spacingAndGlyphs">التسليح العلوى</text><text class="h" x="3006" y="953" textLength="132" lengthAdjust="spacingAndGlyphs">التسليح السفلى</text>
<text class="h" transform="translate(3203 951) rotate(-45)">الابعاد</text><text class="h" transform="translate(3289 966) rotate(-45)">النموذج</text>
<text class="h" x="2661" y="1003">( أ )</text><text class="h" x="2805" y="1003">عدل</text><text class="h" x="2945" y="1003">مكسح</text><text class="h" x="3091" y="1003">عدل</text><text class="s" x="3174" y="1000">عمق</text><text class="s" x="3222" y="1000">عرض</text>
<text class="v" x="2675" y="1044">٨Ø٥ ×٣</text><text class="v" x="2803" y="1044">١٤Ø٤</text><text class="v" x="3084" y="1044">١٤Ø٨</text><text class="v" x="3180" y="1040">٣٢</text><text class="v" x="3229" y="1041">٦٠</text><text class="t" x="3284" y="1043">ك١</text>
<text class="v" x="2675" y="1079">٨Ø٦ ×٣</text><text class="v" x="2803" y="1079">١٤Ø٤</text><text class="v" x="2943" y="1079">١٦Ø٤</text><text class="v" x="3084" y="1079">١٦Ø٤</text><text class="v" x="3180" y="1073">٣٢</text><text class="v" x="3229" y="1073">٨٠</text><text class="t" x="3284" y="1075">ك٢</text>
<text class="v" x="2675" y="1108">٨Ø٦ ×٤</text><text class="v" x="2803" y="1108">١٦Ø٦</text><text class="v" x="2943" y="1108">١٦Ø٦</text><text class="v" x="3084" y="1108">١٦Ø٨</text><text class="v" x="3180" y="1106">٣٢</text><text class="v" x="3229" y="1106">١٠٠</text><text class="t" x="3284" y="1106">ك٣</text>
<text class="v" x="2675" y="1142">٨Ø٨ ×٤</text><text class="v" x="2803" y="1142">١٦Ø١٠</text><text class="v" x="2943" y="1142">١٦Ø١٠</text><text class="v" x="3084" y="1142">١٦Ø١٢</text><text class="v" x="3180" y="1143">٣٢</text><text class="v" x="3229" y="1143">١١٠</text><text class="t" x="3284" y="1143">ك٤</text>
<text class="v" x="2668" y="1181">٨Ø٦</text><text class="v" x="2817" y="1183">١٤Ø٢</text><text class="v" x="2997" y="1181" textLength="186" lengthAdjust="spacingAndGlyphs">امتداد الكمرة المجاورة</text><text class="v" x="3180" y="1182">٣٢</text><text class="v" x="3229" y="1181">٤٠</text><text class="t" x="3284" y="1181">كا</text>
<text class="v" x="2668" y="1217">٨Ø٦</text><text class="v" x="2823" y="1217">١٤Ø٢</text><text class="v" x="3093" y="1217">١٤Ø٢</text><text class="v" x="3180" y="1216">٣٢</text><text class="v" x="3229" y="1215">٢٠</text><text class="t" x="3284" y="1215">هـ</text>
</g>
<!-- title cards -->
<g fill="none" stroke="#000">
<rect x="2708" y="1502" width="490" height="725" rx="62" stroke-width="2"/>
<rect x="2737" y="1532" width="431" height="213" rx="36" stroke-width="4"/>
<rect x="2736" y="1762" width="431.5" height="102" rx="34" stroke-width="4"/>
<rect x="2737" y="1894" width="431.5" height="132" rx="36" stroke-width="4"/>
<rect x="2738" y="2049" width="431" height="131" rx="36" stroke-width="4"/>
<circle cx="2814" cy="1576" r="35" stroke-width="7" stroke-dasharray="44 6 58 6 70 6 30 0"/>
<path d="M2814 1538V1612M2790 1558C2784 1574 2800 1575 2814 1575C2834 1575 2846 1586 2834 1604" stroke-width="6"/>
<path d="M2905 1618H3147M2795 1667H3147M2965 1838.7H3151M3034 1960.6H3157M2978 2107H3157" stroke-width="2"/>
</g>
<text x="3042" y="1566" style="font-size:28px;font-weight:bold;stroke:#000;stroke-width:1" textLength="200" lengthAdjust="spacingAndGlyphs">مكتب الكيان العربى</text>
<text x="3044" y="1598" style="font-size:28px;font-weight:bold;stroke:#000;stroke-width:1" textLength="196" lengthAdjust="spacingAndGlyphs">للاستشارات الهندسية</text>
<text x="3002" y="1638" style="font-size:25px" textLength="288" lengthAdjust="spacingAndGlyphs">مهندس/ مولر عاطف سامى</text>
<text x="2884" y="1685" style="font-size:18px" textLength="248" lengthAdjust="spacingAndGlyphs">connect :-(+2)01225936255</text>
<text x="2789" y="1712" style="font-size:18px" textLength="52" lengthAdjust="spacingAndGlyphs">Email</text>
<text x="2847" y="1712" style="font-size:18px">:-</text>
<text x="2988" y="1710" style="font-size:18px" textLength="271" lengthAdjust="spacingAndGlyphs">eng.mollersamy@gmail.com</text>
<text x="2967" y="1806" style="font-size:34px" textLength="333" lengthAdjust="spacingAndGlyphs">نوع المشروع/ فيلا سكنية</text>
<text x="3082" y="1929" style="font-size:34px" textLength="115" lengthAdjust="spacingAndGlyphs">الموقع /</text>
<text x="2888" y="1982" style="font-size:32px" textLength="176" lengthAdjust="spacingAndGlyphs">مدينة الطائف</text>
<text x="3066" y="2082" style="font-size:32px" textLength="146" lengthAdjust="spacingAndGlyphs">ملك المكرم</text>
<text x="2891" y="2142" style="font-size:30px" textLength="152" lengthAdjust="spacingAndGlyphs">على الجهنى</text>
<!-- watermark -->
<g opacity="0.55">
<text x="1753" y="2296" style="font-size:135px;font-weight:bold;fill:#ccc;stroke:#ccc;stroke-width:7;stroke-linejoin:round" textLength="419" lengthAdjust="spacingAndGlyphs">مستقل</text>
<text x="1753" y="2417" style="dominant-baseline:auto;font-family:'Liberation Sans',sans-serif;font-size:68px;font-weight:bold;fill:#ccc" textLength="419" lengthAdjust="spacingAndGlyphs">mostaql.com</text>
</g>
</svg>
</body></html>
